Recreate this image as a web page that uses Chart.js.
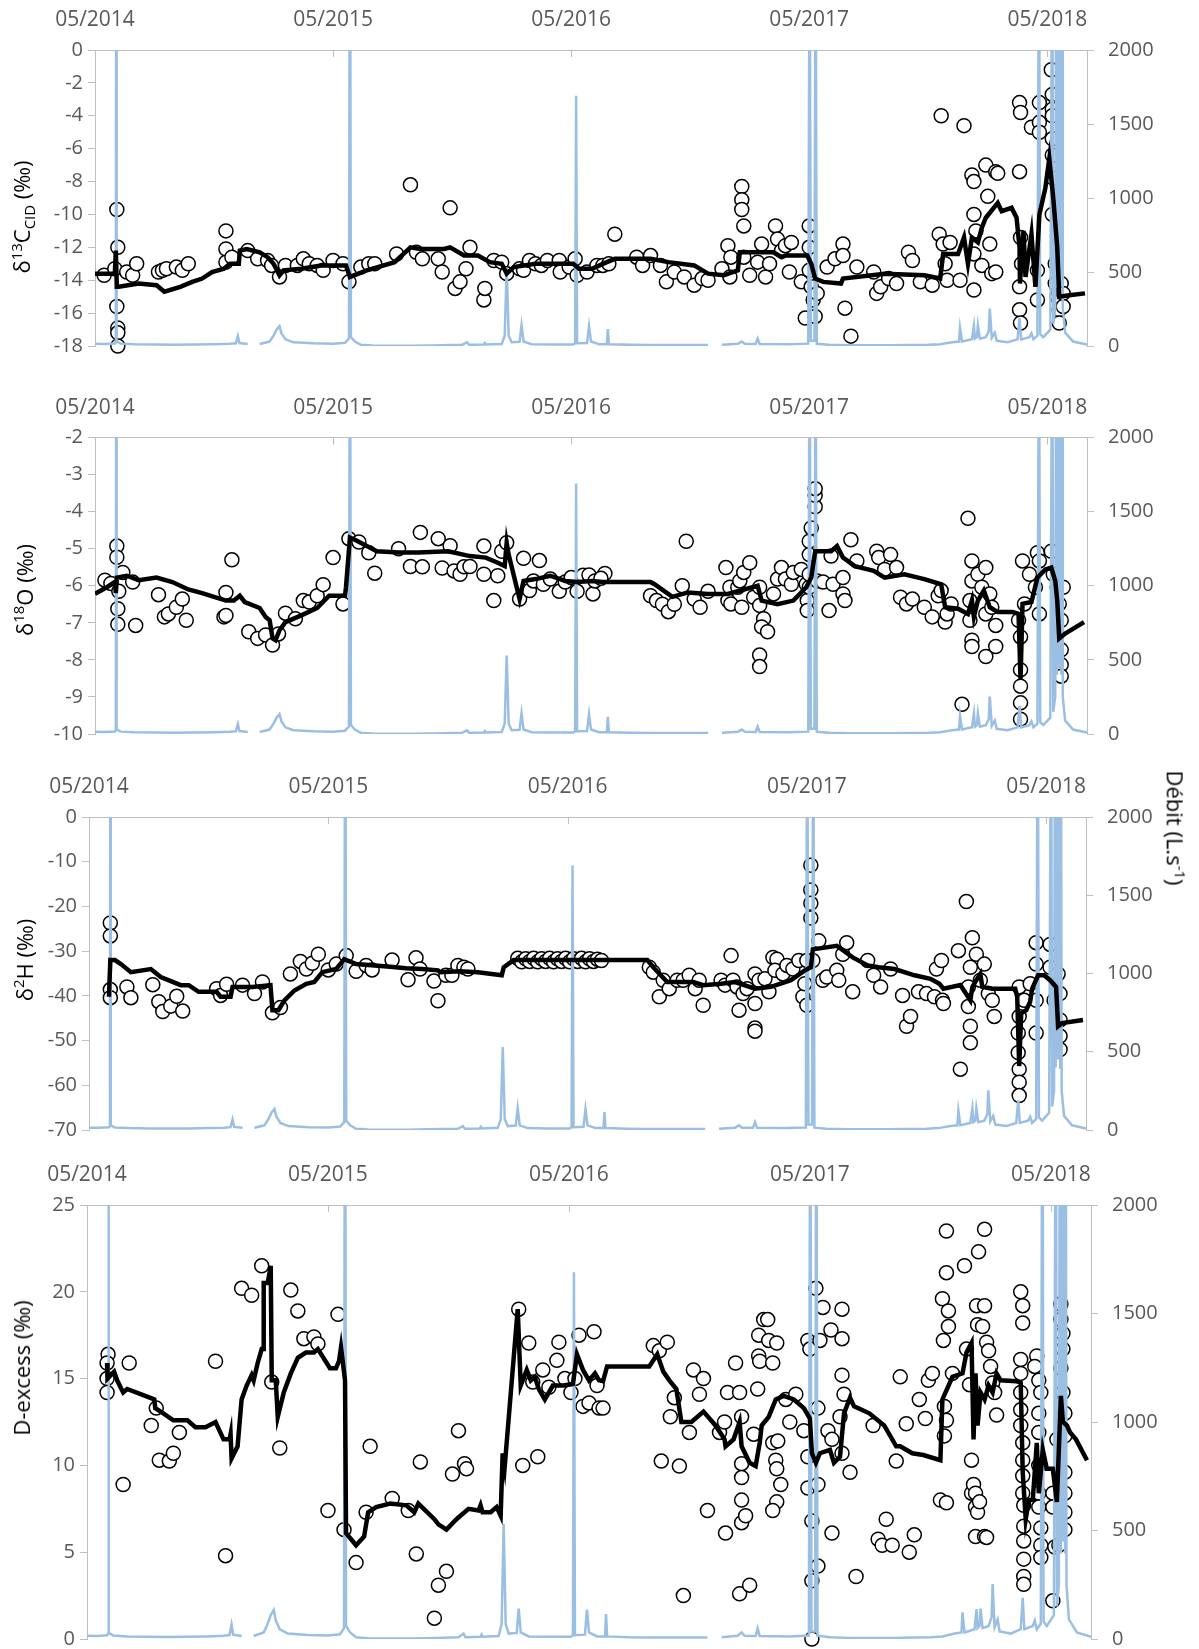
<!DOCTYPE html>
<html lang="fr">
<head>
<meta charset="UTF-8">
<title>Isotopes et débit 2014-2018</title>
<script src="https://cdn.jsdelivr.net/npm/chart.js"></script>
<style>
    body {
        margin: 0;
        background: #fff;
        width: 1199px;
        height: 1649px;
        position: relative;
        overflow: hidden;
        font-family: "Open Sans", sans-serif;
    }
    canvas { position: absolute; left: 0; }
    .title {
        position: absolute;
        white-space: nowrap;
        font-size: 22px;
        color: #000;
        line-height: 1;
        transform: translate(-50%, -50%) rotate(-90deg);
    }
    .title.right { transform: translate(-50%, -50%) rotate(90deg); }
    .title sup, .title sub { font-size: 0.68em; }
</style>
</head>
<body>

<canvas id="p1" width="1199" height="372" style="top:0px"></canvas>
<canvas id="p2" width="1199" height="376" style="top:384px"></canvas>
<canvas id="p3" width="1199" height="392" style="top:764px"></canvas>
<canvas id="p4" width="1199" height="515" style="top:1150px"></canvas>

<div class="title" style="left:23px; top:217px">δ<sup>13</sup>C<sub>CID</sub> (‰)</div>
<div class="title" style="left:23px; top:590px">δ<sup>18</sup>O (‰)</div>
<div class="title" style="left:23px; top:960px">δ<sup>2</sup>H (‰)</div>
<div class="title" style="left:21px; top:1368px">D-excess (‰)</div>
<div class="title right" style="left:1176px; top:828px">Débit (L.s<sup>-1</sup>)</div>

<script>
// x values are months counted from 05/2014
const tickMonths = [0, 12, 24, 36, 48];
const tickLabels = ['05/2014', '05/2015', '05/2016', '05/2017', '05/2018'];

// discharge (L/s), same series on every panel, null = gap in record
const debit = [
    [0,15],[0.5,14],[1.0,17],[1.05,25],[1.07,3200],[1.09,30],[1.3,16],[2,12],[3,10],[4,9],[5,10],[6,12],
    [6.8,15],[7.1,18],[7.2,67],[7.28,20],[7.7,14],[7.75,null],[8.3,14],[8.8,30],[9.0,70],[9.15,110],[9.3,134],
    [9.4,85],[9.6,45],[10,25],[11,18],[12,16],[12.6,22],[12.8,50],[12.85,3500],[12.9,60],[13.1,30],[13.4,8],
    [14,3],[15,2],[16,2],[17,4],[18.5,8],[18.75,25],[18.85,8],[19.6,10],[19.65,20],[19.7,10],[20.5,14],
    [20.65,70],[20.75,530],[20.85,70],[21.0,25],[21.4,28],[21.5,140],[21.6,30],[22,12],[23,10],[24.1,10],
    [24.2,18],[24.25,1690],[24.3,18],[24.8,20],[24.9,135],[25.0,30],[25.4,12],[25.8,12],[25.85,115],[25.9,12],
    [27,8],[28,7],[29,7],[30.9,7],[31.0,null],[31.6,8],[32.4,15],[32.6,30],[32.75,15],[33.3,14],[33.4,50],
    [33.5,14],[35,12],[35.95,16],[36.02,3000],[36.08,35],[36.26,35],[36.32,3000],[36.38,15],[37,8],[38,5],
    [40,5],[42,8],[42.6,12],[43.2,25],[43.55,30],[43.6,123],[43.7,30],[44.2,45],[44.3,138],[44.35,50],
    [44.45,60],[44.5,140],[44.6,50],[44.9,60],[45.05,100],[45.1,253],[45.2,55],[45.35,90],[45.45,35],[46,25],
    [46.5,45],[46.6,190],[46.68,45],[47.1,60],[47.2,85],[47.3,45],[47.5,70],[47.58,3000],[47.64,80],
    [47.8,60],[48.15,110],[48.25,3000],[48.3,150],[48.4,250],[48.45,3000],[48.48,400],[48.5,3000],
    [48.53,500],[48.56,3000],[48.59,450],[48.62,3000],[48.65,500],[48.68,3000],[48.71,400],[48.74,3000],
    [48.78,250],[48.9,90],[49.3,30],[50,10]
];

// δ13C CID
const c13Points = [
    [0.46,-13.7],[1.0,-13.3],[1.1,-9.7],[1.15,-12.0],[1.1,-15.6],[1.15,-16.9],[1.15,-17.2],[1.15,-18.0],
    [1.6,-13.5],[1.9,-13.7],[2.1,-13.0],[3.2,-13.5],[3.4,-13.4],[3.6,-13.3],[4.1,-13.2],[4.4,-13.4],[4.7,-13.0],
    [6.6,-11.0],[6.6,-12.1],[6.6,-12.9],[6.9,-12.6],[7.7,-12.2],[8.2,-12.7],[8.7,-12.8],[8.9,-13.1],[9.3,-13.8],
    [9.6,-13.1],[10.2,-13.1],[10.5,-12.7],[10.8,-13.0],[11.2,-13.1],[11.5,-13.4],[12.0,-12.8],[12.5,-13.0],
    [12.8,-14.1],[13.4,-13.2],[13.8,-13.0],[14.1,-13.0],[15.2,-12.4],[15.9,-8.2],[16.2,-12.3],[16.5,-12.7],
    [17.3,-12.7],[17.5,-13.5],[17.9,-9.6],[18.15,-14.5],[18.4,-14.1],[18.7,-13.3],[18.9,-12.0],[19.6,-15.2],
    [19.65,-14.5],[20.1,-12.8],[20.5,-12.9],[20.75,-13.6],[21.4,-13.3],[21.6,-13.4],[21.9,-12.8],[22.2,-13.0],
    [22.5,-13.1],[22.8,-12.8],[23.4,-12.8],[23.45,-13.5],[23.9,-13.2],[24.2,-12.7],[24.3,-13.7],[24.8,-13.5],
    [25.3,-13.1],[25.6,-13.1],[25.9,-13.0],[26.2,-11.2],[27.3,-12.6],[27.6,-13.1],[28.0,-12.5],[28.5,-13.1],
    [28.8,-14.1],[29.2,-13.5],[29.7,-13.8],[30.2,-14.3],[30.6,-13.9],[30.9,-14.0],[31.6,-13.3],[31.9,-11.9],
    [32.05,-12.6],[32.0,-13.8],[32.6,-8.3],[32.6,-9.1],[32.6,-9.7],[32.7,-10.7],[32.7,-12.6],[33.0,-13.7],
    [33.4,-12.9],[33.6,-11.8],[33.8,-13.8],[34.0,-13.0],[34.3,-10.7],[34.4,-11.5],[34.6,-12.2],[34.8,-11.9],
    [35.1,-11.7],[35.0,-13.5],[35.6,-14.1],[35.8,-16.3],[36.0,-10.7],[36.0,-12.0],[36.0,-13.4],[36.1,-14.4],
    [36.2,-15.2],[36.3,-16.2],[36.4,-14.8],[36.9,-13.2],[37.3,-12.7],[37.7,-11.8],[37.7,-12.5],[37.8,-15.7],
    [38.1,-17.4],[38.4,-13.2],[39.25,-13.5],[39.4,-14.8],[39.6,-14.4],[40.0,-13.9],[40.4,-14.2],[41.0,-12.3],
    [41.2,-12.8],[41.6,-14.1],[42.2,-14.3],[42.65,-4.0],[42.55,-11.2],[42.75,-11.8],[42.85,-13.0],[42.95,-14.0],
    [43.1,-11.7],[43.6,-14.0],[43.8,-4.6],[44.2,-7.6],[44.3,-8.0],[44.3,-10.0],[44.4,-11.0],[44.3,-12.4],
    [44.3,-14.6],[44.7,-13.1],[44.9,-7.0],[45.0,-8.9],[45.1,-11.8],[45.2,-13.6],[45.4,-7.4],[45.5,-7.5],
    [45.4,-13.5],[46.6,-3.2],[46.65,-3.8],[46.6,-7.4],[46.65,-11.4],[46.7,-13.0],[46.6,-14.4],[46.6,-15.8],
    [46.65,-16.6],[47.2,-4.7],[47.6,-3.2],[47.6,-4.4],[47.6,-5.0],[47.5,-13.4],[47.5,-15.2],[48.2,-1.2],
    [48.25,-2.7],[48.25,-3.6],[48.25,-4.0],[48.25,-5.4],[48.25,-6.4],[48.3,-7.8],[48.25,-10.0],[48.4,-13.0],
    [48.4,-14.2],[48.5,-15.0],[48.6,-15.8],[48.6,-16.6],[48.7,-14.2],[48.8,-14.8],[48.8,-15.6]
];
const c13Line = [
    [0,-13.6],[1.0,-13.6],[1.05,-12.2],[1.1,-14.4],[1.2,-14.4],[2.2,-14.2],[3.1,-14.3],[3.5,-14.7],[4.3,-14.4],
    [4.9,-14.1],[5.4,-13.9],[5.9,-13.5],[6.5,-13.3],[6.8,-13.0],[7.25,-13.0],[7.3,-12.2],[7.65,-12.1],
    [8.3,-12.3],[8.7,-12.6],[9.0,-13.0],[9.3,-13.7],[9.5,-13.4],[10.4,-13.3],[11.4,-13.1],[12.65,-13.1],
    [12.85,-13.8],[13.7,-13.4],[15.1,-12.9],[15.9,-12.0],[16.4,-12.1],[17.6,-12.1],[17.9,-12.0],[18.6,-12.5],
    [19.3,-12.5],[19.9,-12.9],[20.5,-13.0],[20.75,-13.6],[21.1,-13.2],[22.2,-13.0],[24.1,-13.0],[24.4,-13.3],
    [25.05,-13.3],[25.8,-12.9],[26.2,-12.7],[28.0,-12.7],[28.9,-12.9],[30.2,-13.1],[30.9,-13.6],[31.7,-13.7],
    [32.4,-13.4],[32.5,-12.3],[34.2,-12.3],[34.6,-12.6],[34.8,-12.5],[35.9,-12.5],[36.1,-13.0],[36.3,-13.9],
    [36.7,-14.1],[37.6,-14.2],[37.7,-13.9],[39.8,-13.6],[41.8,-13.7],[42.6,-13.9],[42.75,-12.4],[43.5,-12.4],
    [43.8,-11.4],[44.0,-13.0],[44.2,-11.4],[44.5,-11.7],[44.7,-10.8],[44.9,-10.2],[45.3,-9.6],[45.5,-9.3],
    [45.7,-9.8],[46.2,-9.6],[46.45,-10.2],[46.6,-12.0],[46.62,-14.2],[46.8,-11.0],[46.9,-13.8],[47.2,-11.2],
    [47.4,-14.4],[47.6,-10.0],[47.9,-8.4],[48.1,-6.6],[48.3,-9.0],[48.5,-12.0],[48.6,-15.0],[49.2,-14.9],
    [49.9,-14.8]
];

// δ18O
const o18Points = [
    [0.5,-5.85],[0.8,-5.94],[1.1,-4.93],[1.1,-5.23],[1.2,-6.15],[1.15,-6.62],[1.15,-7.04],[1.4,-5.64],
    [1.9,-5.9],[2.05,-7.07],[3.2,-6.24],[3.5,-6.84],[3.7,-6.76],[4.1,-6.58],[4.4,-6.36],[4.6,-6.93],
    [6.5,-6.84],[6.6,-6.18],[6.6,-6.8],[6.9,-5.3],[7.75,-7.24],[8.2,-7.42],[8.6,-7.33],[8.95,-7.6],
    [9.25,-7.3],[9.6,-6.74],[10.1,-6.89],[10.5,-6.4],[10.8,-6.44],[11.2,-6.27],[11.5,-5.97],[12.0,-5.24],
    [12.5,-6.49],[12.8,-4.73],[13.3,-4.82],[13.8,-5.11],[14.1,-5.66],[15.3,-5.0],[15.9,-5.48],[16.4,-4.56],
    [16.5,-5.49],[17.3,-4.73],[17.5,-5.52],[17.9,-4.92],[18.1,-5.6],[18.4,-5.69],[18.6,-5.49],[18.9,-5.48],
    [19.6,-4.93],[19.6,-5.69],[20.1,-6.4],[20.3,-5.73],[20.5,-5.07],[20.75,-4.84],[21.4,-6.36],[21.6,-5.26],
    [21.9,-6.13],[22.1,-5.87],[22.4,-5.32],[22.6,-5.96],[22.95,-5.82],[23.4,-6.15],[23.7,-5.9],[24.0,-5.78],
    [24.3,-6.15],[24.6,-5.72],[24.9,-5.71],[25.1,-6.22],[25.2,-5.87],[25.7,-5.67],[25.5,-5.8],[28.0,-6.27],
    [28.3,-6.4],[28.6,-6.5],[28.9,-6.7],[29.2,-6.5],[29.6,-6.0],[29.8,-4.8],[30.2,-6.36],[30.5,-6.58],
    [30.9,-6.15],[31.8,-5.51],[32.0,-6.04],[31.9,-6.4],[32.05,-6.49],[32.4,-6.04],[32.5,-5.87],[32.7,-5.64],
    [32.6,-6.58],[33.0,-5.38],[33.2,-6.31],[33.5,-6.04],[33.5,-6.53],[33.7,-6.89],[33.6,-7.11],[33.9,-7.24],
    [33.5,-7.87],[33.5,-8.18],[34.2,-6.22],[34.4,-5.82],[34.6,-5.51],[34.8,-5.82],[35.1,-5.96],[35.2,-5.64],
    [35.6,-5.56],[35.85,-5.96],[35.9,-6.4],[35.9,-6.67],[36.0,-6.04],[36.0,-5.69],[36.0,-5.16],[36.0,-4.8],
    [36.1,-4.44],[36.3,-3.87],[36.3,-3.56],[36.3,-3.38],[36.4,-5.87],[36.7,-5.9],[37.1,-5.2],[37.0,-6.67],
    [37.2,-5.96],[37.7,-5.78],[37.7,-6.22],[37.8,-6.4],[38.1,-4.76],[38.4,-5.33],[39.4,-5.07],[39.5,-5.24],
    [40.1,-5.16],[39.8,-5.56],[40.4,-5.51],[40.6,-6.31],[40.9,-6.49],[41.2,-6.36],[41.8,-6.58],[42.2,-6.84],
    [42.5,-6.27],[42.65,-6.13],[42.85,-6.98],[42.95,-6.76],[43.15,-6.49],[43.7,-9.2],[44.0,-4.18],[44.2,-5.33],
    [44.2,-5.87],[44.1,-6.4],[44.1,-6.93],[44.2,-7.47],[44.2,-7.64],[44.5,-5.69],[44.7,-6.04],[44.9,-5.51],
    [44.9,-6.76],[44.9,-7.91],[45.1,-6.22],[45.2,-6.58],[45.4,-7.07],[45.4,-7.64],[46.55,-6.93],[46.65,-7.38],
    [46.65,-8.27],[46.65,-8.71],[46.65,-9.16],[46.65,-9.6],[46.75,-5.33],[46.85,-6.49],[47.1,-5.69],
    [47.4,-6.04],[47.5,-5.11],[47.6,-5.33],[47.6,-6.76],[48.2,-5.07],[48.3,-5.69],[48.5,-6.04],[48.6,-6.49],
    [48.7,-6.93],[48.7,-7.73],[48.7,-8.13],[48.7,-8.44],[48.8,-6.04]
];
const o18Line = [
    [0,-6.22],[0.6,-6.04],[1.0,-5.9],[1.05,-6.2],[1.1,-5.78],[1.6,-5.73],[2.2,-5.85],[3.1,-5.78],[3.9,-5.9],
    [4.7,-6.1],[5.4,-6.2],[6.0,-6.3],[6.6,-6.4],[7.0,-6.4],[7.3,-6.27],[7.55,-6.44],[8.3,-6.6],[8.6,-6.84],
    [8.8,-6.93],[8.95,-7.42],[9.1,-7.47],[9.3,-7.2],[9.6,-6.98],[10.4,-6.8],[11.2,-6.6],[11.8,-6.27],
    [12.6,-6.27],[12.65,-6.04],[12.85,-4.7],[13.1,-4.76],[13.7,-4.93],[14.2,-5.07],[15.3,-5.1],[16.3,-5.1],
    [17.8,-5.07],[18.9,-5.2],[19.7,-5.24],[20.3,-5.38],[20.65,-5.47],[20.75,-4.84],[20.85,-5.16],[21.4,-6.36],
    [21.6,-5.87],[22.2,-5.82],[22.95,-5.73],[23.7,-5.87],[24.3,-5.9],[25.05,-5.87],[25.6,-5.9],[28.0,-5.9],
    [28.2,-5.96],[29.1,-6.3],[29.9,-6.18],[30.9,-6.22],[31.9,-6.22],[33.4,-6.0],[33.6,-6.4],[34.4,-6.5],
    [35.2,-6.4],[35.85,-6.04],[36.1,-5.78],[36.3,-5.07],[37.1,-5.07],[37.4,-4.93],[37.7,-5.24],[38.3,-5.47],
    [39.25,-5.6],[39.8,-5.78],[40.8,-5.69],[41.8,-5.82],[42.65,-5.96],[42.85,-6.58],[43.5,-6.62],[44.0,-6.76],
    [44.2,-6.4],[44.3,-6.84],[44.5,-6.4],[44.8,-6.13],[45.1,-6.58],[45.5,-6.71],[46.25,-6.71],[46.55,-6.76],
    [46.65,-8.53],[46.75,-6.49],[47.2,-6.44],[47.5,-5.78],[47.9,-5.56],[48.2,-5.51],[48.4,-5.87],[48.5,-6.4],
    [48.6,-7.42],[48.9,-7.29],[49.85,-6.98]
];

// δ2H
const h2Points = [
    [1.07,-23.7],[1.07,-26.6],[1.07,-38.6],[1.07,-40.4],[1.9,-38.0],[2.1,-40.4],[3.2,-37.5],[3.5,-41.3],
    [3.7,-43.5],[4.1,-42.3],[4.4,-40.1],[4.7,-43.4],[6.4,-38.4],[6.6,-39.9],[6.9,-37.4],[7.7,-37.6],
    [8.3,-39.5],[8.7,-36.9],[9.2,-43.8],[9.6,-42.6],[10.1,-35.1],[10.6,-32.3],[10.9,-34.0],[11.2,-32.7],
    [11.5,-30.7],[12.0,-34.2],[12.4,-32.9],[12.9,-31.0],[13.4,-34.5],[13.9,-33.2],[14.2,-34.2],[15.2,-32.0],
    [16.0,-36.4],[16.4,-31.5],[16.6,-34.0],[17.3,-36.7],[17.5,-41.1],[17.9,-35.4],[18.2,-35.4],[18.5,-33.2],
    [18.8,-33.6],[19.0,-34.0],[21.5,-31.6],[21.7,-32.4],[21.9,-31.7],[22.1,-32.3],[22.3,-31.6],[22.5,-32.4],
    [22.7,-31.7],[22.9,-32.3],[23.1,-31.6],[23.3,-32.4],[23.5,-31.7],[23.7,-32.3],[23.9,-31.6],[24.1,-32.4],
    [24.3,-31.7],[24.5,-32.3],[24.7,-31.6],[24.9,-32.4],[25.1,-31.7],[25.3,-32.3],[25.5,-31.8],[25.7,-32.1],
    [28.1,-33.6],[28.3,-34.7],[28.6,-40.2],[28.8,-36.5],[29.1,-38.4],[29.5,-36.5],[29.8,-36.5],[30.1,-35.4],
    [30.4,-38.4],[30.8,-42.1],[30.6,-36.5],[31.7,-36.5],[31.9,-37.6],[32.2,-31.0],[32.3,-36.5],[32.5,-38.0],
    [32.6,-43.2],[32.8,-39.5],[33.0,-38.4],[33.4,-35.1],[33.4,-41.7],[33.4,-47.2],[33.4,-47.9],[33.6,-36.5],
    [33.9,-36.2],[34.1,-39.1],[34.3,-31.4],[34.5,-31.8],[34.4,-34.3],[34.8,-35.1],[35.0,-33.2],[35.3,-34.0],
    [35.6,-32.1],[35.8,-40.2],[35.9,-37.3],[36.0,-42.1],[36.0,-32.1],[36.2,-10.8],[36.2,-16.3],[36.2,-19.3],
    [36.2,-22.6],[36.3,-32.1],[36.6,-27.7],[36.8,-36.5],[37.0,-35.8],[37.5,-34.3],[37.6,-36.5],[37.8,-30.7],
    [38.0,-28.1],[38.3,-39.1],[39.05,-32.1],[39.35,-35.4],[39.7,-38.0],[40.2,-34.0],[40.8,-39.9],[41.0,-46.8],
    [41.2,-44.6],[41.6,-39.1],[42.0,-39.5],[42.4,-40.2],[42.5,-34.0],[42.75,-32.1],[42.8,-41.0],[42.85,-41.7],
    [43.7,-56.4],[43.6,-29.9],[44.0,-18.9],[44.3,-27.0],[44.2,-33.6],[44.1,-38.0],[44.1,-42.4],[44.2,-46.8],
    [44.2,-50.5],[44.5,-30.7],[44.7,-36.5],[44.9,-32.9],[45.1,-39.5],[45.3,-41.0],[45.4,-44.6],[46.65,-38.0],
    [46.65,-44.6],[46.6,-48.3],[46.6,-52.7],[46.65,-56.4],[46.65,-59.3],[46.65,-62.3],[46.9,-41.0],
    [47.2,-37.3],[47.5,-28.1],[47.5,-32.9],[47.5,-48.3],[47.5,-41.0],[48.2,-28.5],[48.2,-33.6],[48.4,-41.0],
    [48.6,-35.1],[48.7,-39.5],[48.7,-45.4],[48.7,-49.0],[48.7,-52.0]
];
const h2Line = [
    [1.0,-40.2],[1.07,-32.0],[1.3,-32.0],[1.6,-32.9],[2.1,-34.7],[3.1,-34.0],[3.6,-35.8],[4.6,-37.6],
    [5.0,-37.6],[5.5,-39.1],[6.4,-39.1],[6.6,-40.2],[7.1,-40.2],[7.2,-38.0],[8.2,-38.0],[9.1,-37.6],
    [9.2,-43.2],[9.5,-43.2],[9.8,-41.0],[10.3,-38.8],[10.9,-37.3],[11.3,-36.9],[11.7,-34.7],[12.4,-34.0],
    [12.8,-31.8],[13.4,-32.9],[15.1,-33.5],[15.9,-33.8],[16.7,-34.0],[17.5,-34.3],[17.6,-34.7],[18.6,-34.5],
    [19.5,-34.7],[20.7,-35.4],[20.8,-33.6],[21.3,-32.0],[28.0,-32.0],[28.3,-33.6],[29.0,-36.9],[30.3,-36.9],
    [30.8,-37.6],[31.7,-37.3],[32.4,-36.9],[33.4,-38.4],[34.2,-38.0],[35.2,-36.5],[35.9,-34.3],[36.2,-33.6],
    [36.3,-29.6],[37.5,-28.8],[38.3,-31.4],[39.05,-33.2],[39.6,-33.6],[40.4,-34.0],[41.4,-35.4],[42.2,-36.2],
    [42.65,-37.3],[42.85,-38.4],[43.7,-37.6],[44.2,-41.0],[44.3,-38.0],[44.5,-36.5],[44.7,-35.1],[44.8,-38.0],
    [45.3,-38.4],[46.45,-38.4],[46.55,-40.2],[46.65,-55.7],[46.75,-43.9],[47.0,-43.2],[47.2,-41.3],
    [47.3,-38.4],[47.6,-35.4],[47.9,-35.4],[48.2,-36.5],[48.5,-38.0],[48.6,-46.8],[48.8,-46.1],[49.85,-45.4]
];

// D-excess
const dexPoints = [
    [1.05,16.4],[1.0,15.9],[1.0,15.0],[1.0,14.2],[1.8,8.9],[2.1,15.9],[3.2,12.3],[3.45,13.3],[3.6,10.3],
    [4.1,10.25],[4.3,10.7],[4.6,11.9],[6.4,16.0],[6.9,4.8],[7.7,20.2],[8.2,19.8],[8.7,21.5],[9.2,14.8],
    [9.6,11.0],[10.15,20.1],[10.5,18.9],[10.8,17.3],[11.3,17.4],[11.5,17.0],[12.0,7.4],[12.5,18.7],[12.8,6.3],
    [13.4,4.4],[13.9,7.3],[14.1,11.1],[15.2,8.1],[16.0,7.4],[16.4,4.9],[16.6,10.2],[17.3,1.2],[17.5,3.1],
    [17.9,3.9],[18.2,9.5],[18.5,12.0],[18.8,10.1],[18.9,9.8],[21.5,19.0],[21.7,10.0],[22.0,17.05],[22.2,14.8],
    [22.45,10.5],[22.7,15.5],[23.0,14.5],[23.4,16.05],[23.5,17.1],[23.8,15.0],[24.1,14.2],[24.3,15.0],
    [24.5,17.5],[24.7,13.4],[25.0,13.6],[25.25,17.7],[25.4,14.6],[25.5,13.3],[25.7,13.3],[28.2,16.9],
    [28.5,16.6],[28.9,17.1],[28.6,10.25],[29.05,12.8],[29.25,13.9],[29.5,9.96],[29.7,2.5],[30.0,11.9],
    [30.2,15.5],[30.5,14.1],[30.7,15.0],[30.9,7.4],[31.5,11.9],[31.75,12.5],[31.8,6.1],[31.9,14.2],[32.3,15.9],
    [32.5,2.6],[32.5,14.2],[32.6,12.8],[32.6,10.1],[32.6,9.3],[32.6,8.0],[32.6,6.7],[32.8,7.1],[33.0,3.1],
    [33.2,11.8],[33.4,14.4],[33.45,17.5],[33.45,16.3],[33.5,16.0],[33.7,18.4],[33.9,18.4],[33.95,17.2],
    [34.15,15.9],[34.35,17.05],[34.15,11.3],[34.3,10.3],[34.35,9.8],[34.55,8.9],[34.35,7.9],[34.15,7.4],
    [34.4,11.4],[34.8,13.8],[35.0,12.5],[35.3,14.1],[35.7,12.0],[35.9,17.2],[36.0,16.7],[35.9,10.5],[35.9,8.7],
    [36.1,6.8],[36.1,3.35],[36.1,0],[36.3,20.2],[36.4,13.3],[36.4,8.9],[36.4,4.2],[36.5,17.2],[36.65,19.1],
    [36.9,12.0],[37.05,17.8],[37.1,11.5],[37.1,6.1],[37.6,19.0],[37.6,17.3],[37.6,15.2],[37.5,12.8],[37.6,10.7],
    [37.7,14.1],[38.0,9.6],[38.3,3.6],[39.15,12.3],[39.4,5.75],[39.6,5.4],[39.8,6.9],[40.1,5.4],[40.3,10.25],
    [40.5,15.1],[40.8,12.4],[40.95,5.0],[41.2,6.0],[41.45,13.8],[41.75,12.7],[41.9,14.9],[42.1,15.3],[42.5,8.0],
    [42.6,19.6],[42.65,17.2],[42.7,13.4],[42.8,12.6],[42.7,11.7],[42.8,23.5],[42.8,21.1],[42.9,18.9],[42.9,18.0],
    [42.8,7.85],[43.1,15.3],[43.7,21.5],[43.8,16.7],[43.95,14.65],[44.05,10.3],[44.05,8.4],[44.15,8.9],
    [44.25,8.4],[44.25,7.6],[44.25,5.9],[44.4,22.3],[44.7,23.6],[44.3,19.2],[44.35,18.1],[44.7,19.2],[44.6,18.0],
    [44.8,17.1],[44.9,16.6],[45.0,15.7],[45.1,14.75],[45.2,14.2],[45.3,12.9],[44.35,7.3],[44.45,7.9],[44.7,5.9],
    [44.8,5.85],[46.5,20.0],[46.6,19.2],[46.6,18.2],[46.5,16.1],[46.5,15.3],[46.5,14.2],[46.5,13.2],[46.5,12.3],
    [46.6,11.3],[46.6,10.3],[46.6,9.4],[46.6,8.4],[46.65,7.7],[46.65,6.5],[46.65,5.65],[46.65,4.6],[46.65,3.6],
    [46.65,3.15],[47.3,16.3],[47.2,15.7],[47.4,14.9],[47.5,14.2],[47.4,13.0],[47.4,11.9],[47.4,10.0],[47.4,8.4],
    [47.4,7.6],[47.5,6.4],[47.5,5.4],[47.5,4.7],[48.1,2.2],[48.1,8.4],[48.1,7.6],[48.2,5.3],[48.3,11.5],
    [48.5,19.3],[48.5,18.4],[48.6,17.6],[48.6,16.7],[48.5,15.6],[48.6,14.2],[48.7,13.0],[48.7,11.7],[48.7,9.6],
    [48.7,8.4],[48.7,7.3],[48.7,6.3],[48.4,5.4]
];
const dexLine = [
    [1.0,15.9],[1.02,15.0],[1.35,15.4],[1.5,14.9],[1.8,14.2],[2.0,14.4],[2.9,14.0],[3.35,13.8],[3.4,13.3],
    [3.8,13.0],[4.3,12.6],[5.0,12.6],[5.4,12.2],[5.9,12.2],[6.4,12.5],[6.8,11.5],[7.1,11.5],[7.15,11.8],
    [7.2,10.4],[7.5,11.1],[7.7,13.8],[7.95,14.6],[8.2,15.2],[8.3,14.9],[8.5,15.9],[8.7,16.7],[8.78,16.7],
    [8.8,20.5],[9.0,20.5],[9.15,21.5],[9.2,14.9],[9.4,14.9],[9.5,12.8],[9.8,14.2],[10.15,15.3],[10.5,16.2],
    [10.9,16.5],[11.3,16.5],[11.5,16.7],[12.1,15.6],[12.4,15.6],[12.55,16.0],[12.65,16.8],[12.85,14.9],
    [12.9,6.1],[13.4,5.4],[13.8,5.9],[14.0,7.3],[14.4,7.6],[15.1,7.8],[15.9,7.7],[16.3,7.3],[16.5,7.8],
    [17.3,6.9],[17.5,6.6],[17.9,6.3],[18.4,6.9],[19.0,7.5],[19.5,7.4],[19.6,7.7],[19.7,7.3],[20.1,7.3],
    [20.4,7.6],[20.6,7.1],[20.7,10.7],[20.8,9.9],[21.45,19.0],[21.6,14.6],[21.9,15.5],[22.1,14.9],[22.3,15.1],
    [22.5,14.4],[22.8,13.8],[23.2,14.6],[23.75,14.6],[24.2,14.7],[24.4,16.4],[24.7,15.5],[25.0,14.9],
    [25.3,15.3],[25.5,14.9],[25.7,14.85],[25.9,15.7],[28.0,15.7],[28.4,16.4],[28.7,15.4],[29.0,14.9],
    [29.35,14.4],[29.6,12.5],[30.1,12.5],[30.7,13.1],[31.3,12.3],[31.75,11.5],[31.8,11.1],[32.2,11.5],
    [32.5,12.5],[32.6,11.1],[33.0,10.15],[33.3,9.96],[33.5,11.3],[33.6,12.3],[33.95,12.8],[34.3,13.8],
    [34.7,14.0],[35.2,13.8],[35.7,13.3],[36.0,12.7],[36.1,10.7],[36.3,10.15],[36.5,10.7],[37.0,10.9],
    [37.2,10.15],[37.5,10.5],[37.7,13.0],[38.0,13.9],[38.2,13.4],[38.96,13.0],[39.7,12.3],[40.3,11.1],
    [40.5,11.1],[41.1,10.7],[41.65,10.6],[42.5,10.3],[42.6,13.8],[43.1,15.1],[43.6,15.3],[43.8,16.5],
    [44.05,17.05],[44.15,11.5],[44.25,15.3],[44.35,12.3],[44.5,14.2],[44.7,13.8],[44.9,14.6],[45.1,14.2],
    [45.3,15.3],[45.5,14.9],[46.3,14.85],[46.5,14.75],[46.6,9.6],[46.75,6.9],[46.9,8.0],[47.1,8.0],
    [47.3,11.3],[47.4,8.4],[47.6,10.9],[47.8,9.8],[48.1,9.8],[48.3,7.9],[48.5,14.0],[48.6,12.5],[48.8,12.3],
    [48.96,11.9],[49.25,11.5],[49.8,10.3]
];

const GREY = '#595959';
const AXIS = '#bfbfbf';
const BLUE = '#9bbfe3';
Chart.defaults.font.family = '"Open Sans", sans-serif';
Chart.defaults.font.size = 20;

// small inside tick marks under the top date axis
const innerTicks = {
    id: 'innerTicks',
    afterDraw(chart) {
        const {ctx, chartArea, scales} = chart;
        ctx.save();
        ctx.strokeStyle = AXIS;
        ctx.lineWidth = 1;
        tickMonths.forEach(m => {
            const px = Math.round(scales.x.getPixelForValue(m)) + 0.5;
            ctx.beginPath();
            ctx.moveTo(px, chartArea.top);
            ctx.lineTo(px, chartArea.top + 7);
            ctx.stroke();
        });
        ctx.restore();
    }
};

function toXY(arr) {
    return arr.map(p => ({x: p[0], y: p[1]}));
}

function makePanel(id, o) {
    new Chart(document.getElementById(id), {
        type: 'line',
        data: {
            datasets: [
                {
                    data: toXY(o.points), showLine: false, pointRadius: 7, pointBorderWidth: 1.5,
                    pointBackgroundColor: '#fff', pointBorderColor: '#000', yAxisID: 'y', order: 3, clip: false
                },
                {
                    data: toXY(debit), borderColor: BLUE, borderWidth: 2.5, pointRadius: 0,
                    yAxisID: 'y2', order: 2, spanGaps: false
                },
                {
                    data: toXY(o.line), borderColor: '#000', borderWidth: 4.5, pointRadius: 0,
                    yAxisID: 'y', order: 1
                }
            ]
        },
        options: {
            responsive: false,
            animation: false,
            events: [],
            layout: { padding: { top: 0, bottom: o.pad, left: 0, right: 0 } },
            plugins: { legend: { display: false }, tooltip: { enabled: false } },
            scales: {
                x: {
                    type: 'linear', position: 'top', min: 0, max: 50,
                    afterBuildTicks: s => { s.ticks = tickMonths.map(v => ({value: v})); },
                    afterFit: s => { s.height = o.axisH; },
                    grid: { display: false },
                    border: { color: AXIS },
                    ticks: {
                        color: GREY, padding: 9, maxRotation: 0, autoSkip: false, font: { size: 21 },
                        callback: v => tickLabels[tickMonths.indexOf(v)]
                    }
                },
                y: {
                    position: 'left', min: o.yMin, max: o.yMax,
                    afterFit: s => { s.width = o.left; },
                    grid: { drawOnChartArea: false, tickLength: 7, color: AXIS },
                    border: { color: AXIS },
                    ticks: { stepSize: o.yStep, color: GREY, padding: 5, callback: v => String(v) }
                },
                y2: {
                    position: 'right', min: 0, max: 2000,
                    afterFit: s => { s.width = 1199 - o.right; },
                    grid: { drawOnChartArea: false, tickLength: 7, color: AXIS },
                    border: { color: AXIS },
                    ticks: { stepSize: 500, color: GREY, padding: 14, callback: v => String(v) }
                }
            }
        },
        plugins: [innerTicks]
    });
}

makePanel('p1', { points: c13Points, line: c13Line, yMin: -18, yMax: 0, yStep: 2,
    axisH: 50, pad: 21.5, left: 95, right: 1087 });
makePanel('p2', { points: o18Points, line: o18Line, yMin: -10, yMax: -2, yStep: 1,
    axisH: 53.5, pad: 21.5, left: 95, right: 1087 });
makePanel('p3', { points: h2Points, line: h2Line, yMin: -70, yMax: 0, yStep: 10,
    axisH: 53, pad: 21, left: 89, right: 1086 });
makePanel('p4', { points: dexPoints, line: dexLine, yMin: 0, yMax: 25, yStep: 5,
    axisH: 55, pad: 25, left: 87, right: 1091 });
</script>
</body>
</html>
